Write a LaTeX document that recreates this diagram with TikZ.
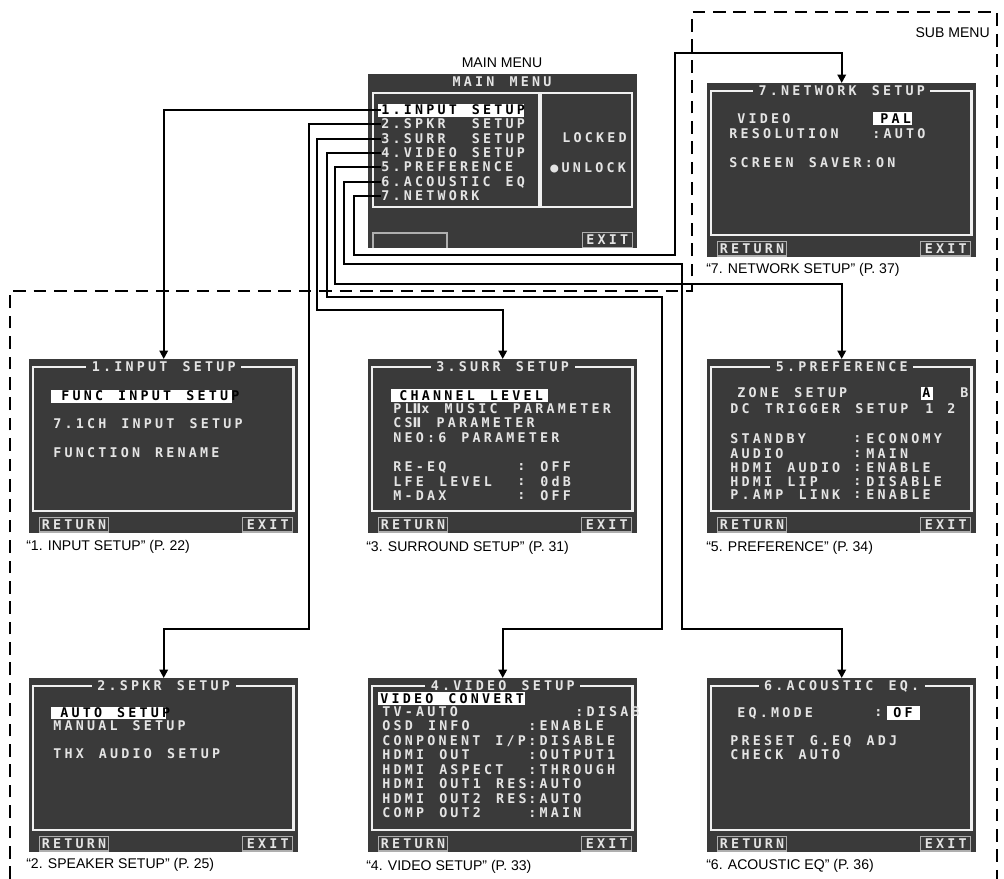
\documentclass[tikz,border=0pt]{standalone}
\usepackage{fontspec}
\setmainfont{Liberation Sans}
\newfontfamily\lcdfont[LetterSpace=24,WordSpace=1.35]{DejaVu Sans Mono}
\newfontfamily\romfont[LetterSpace=24]{DejaVu Sans}
\usetikzlibrary{arrows.meta, positioning, calc}
\definecolor{cScreen}{RGB}{58,58,58}
\definecolor{cFrame}{RGB}{240,240,240}
\definecolor{cLcd}{RGB}{228,228,228}
\definecolor{cBtn}{RGB}{175,175,175}
\tikzset{
  scrbox/.style={rectangle, fill=cScreen, minimum width=6.72cm,
                 minimum height=4.33cm, inner sep=0pt, anchor=north west},
  scrframe/.style={draw=cFrame, line width=1.6pt},
  lcd/.style={font=\lcdfont\bfseries\fontsize{9.5}{10}\selectfont,
              text=cLcd, inner sep=0pt, anchor=west},
  lcdhi/.style={lcd, text=black},
  scrtitle/.style={lcd, anchor=center, fill=cScreen, inner xsep=4pt, inner ysep=1pt},
  btn/.style={lcd, anchor=south west, draw=cBtn, line width=1pt,
              minimum height=0.37cm, inner xsep=1pt},
  captext/.style={font=\fontsize{10}{12}\selectfont, inner sep=0pt, anchor=west},
  link/.style={-{Triangle[width=6pt,length=6pt]}, line width=1.4pt, black},
  submenu/.style={line width=1.4pt, dash pattern=on 9pt off 5.5pt}
}
% one sub screen: name, x, y (top left), title
\newcommand{\subscreen}[4]{%
  \node[scrbox] (#1) at (#2,#3) {};
  \draw[scrframe] ([shift={(4,8)}]#1.north west) rectangle ([shift={(-5,-22)}]#1.south east);
  \node[scrtitle] at ([shift={(0,8)}]#1.north) {#4};
  \node[btn, minimum width=1.72cm] at ([shift={(10,0)}]#1.south west) {RETURN};
  \node[btn, anchor=south east, minimum width=1.25cm] at ([shift={(-5,0)}]#1.south east) {EXIT};
}
\newcommand{\sk}{\hspace{7.9pt}}
\newcommand{\two}{{\romfont Ⅱ}}

\begin{document}
\begin{tikzpicture}[x=0.025cm, y=-0.025cm]
  \useasboundingbox (0,0) rectangle (1004,879);

  % boundary of the sub menus
  \draw[submenu] (10,879) -- (10,291) -- (692,291) -- (692,12) -- (997,12) -- (997,879);
  \node[captext, anchor=east] at (990,33) {SUB MENU};

  % main menu
  \node[captext, anchor=center] at (502,63) {MAIN MENU};
  \node[scrbox] (mainm) at (368,74) {};
  \node[lcd, anchor=center] at (502,82) {MAIN MENU};
  \draw[scrframe] (373,93) rectangle (539,207);
  \draw[scrframe] (541,93) rectangle (632,207);
  \fill[white] (378,104) rectangle (524,117);
  \node[lcdhi] (it1) at (381,110) {1.INPUT SETUP};
  \node[lcd] (it2) at (381,124) {2.SPKR\sk{} SETUP};
  \node[lcd] (it3) at (381,139) {3.SURR\sk{} SETUP};
  \node[lcd] (it4) at (381,153) {4.VIDEO SETUP};
  \node[lcd] (it5) at (381,167) {5.PREFERENCE};
  \node[lcd] (it6) at (381,182) {6.ACOUSTIC EQ};
  \node[lcd] (it7) at (381,196) {7.NETWORK};
  \node[lcd] at (562,138) {LOCKED};
  \node[lcd] at (550,168) {●UNLOCK};
  \draw[cBtn, line width=1pt] (373,248) -- (373,233) -- (447,233) -- (447,248);
  \node[btn, anchor=south east, minimum width=1.25cm] at (633,248) {EXIT};

  % 7. network
  \subscreen{netw}{707}{83}{7.NETWORK SETUP}
  \node[lcd] at (737,119) {VIDEO};
  \fill[white] (873,112) rectangle (912,125);
  \node[lcdhi] at (880,119) {PAL};
  \node[lcd] at (729,134) {RESOLUTION};
  \node[lcd] at (872,134) {:AUTO};
  \node[lcd] at (729,163) {SCREEN SAVER:ON};
  \node[captext] at (706,270) {“7. NETWORK SETUP” (P. 37)};

  % 1. input
  \subscreen{input}{29}{359}{1.INPUT SETUP}
  \fill[white] (51,390) rectangle (232,403);
  \node[lcdhi] at (61,396) {FUNC INPUT SETUP};
  \node[lcd] at (53,424) {7.1CH INPUT SETUP};
  \node[lcd] at (53,453) {FUNCTION RENAME};
  \node[captext] at (26,547) {“1. INPUT SETUP” (P. 22)};

  % 3. surround
  \subscreen{surr}{368}{359}{3.SURR SETUP}
  \fill[white] (391,389) rectangle (548,402);
  \node[lcdhi] at (399,396) {CHANNEL LEVEL};
  \node[lcd] at (393,409) {PL\two x MUSIC PARAMETER};
  \node[lcd] at (393,423) {CS\two{} PARAMETER};
  \node[lcd] at (393,438) {NEO:6 PARAMETER};
  \node[lcd] at (393,467) {RE-EQ};
  \node[lcd] at (393,482) {LFE LEVEL};
  \node[lcd] at (393,496) {M-DAX};
  \foreach \yy/\val in {467/OFF, 482/0dB, 496/OFF} {
    \node[lcd] at (517,\yy) {:};
    \node[lcd] at (540,\yy) {\val};
  }
  \node[captext] at (366,548) {“3. SURROUND SETUP” (P. 31)};

  % 5. preference
  \subscreen{pref}{707}{359}{5.PREFERENCE}
  \node[lcd] at (737,393) {ZONE SETUP};
  \fill[white] (921,387) rectangle (933,400);
  \node[lcdhi] at (922,393) {A};
  \node[lcd] at (960,393) {B};
  \node[lcd] at (730,409) {DC TRIGGER SETUP};
  \node[lcd] at (925,409) {1};
  \node[lcd] at (947,409) {2};
  \foreach \yy/\key/\val in {439/STANDBY/ECONOMY, 454/AUDIO/MAIN, 468/HDMI AUDIO/ENABLE,
                             482/HDMI LIP/DISABLE, 495/P.AMP LINK/ENABLE} {
    \node[lcd] at (730,\yy) {\key};
    \node[lcd] at (853,\yy) {:};
    \node[lcd] at (866,\yy) {\val};
  }
  \node[captext] at (706,548) {“5. PREFERENCE” (P. 34)};

  % 2. speaker
  \subscreen{spkr}{29}{678}{2.SPKR SETUP}
  \fill[white] (51,707) rectangle (166,719);
  \node[lcdhi] at (60,713) {AUTO SETUP};
  \node[lcd] at (53,726) {MANUAL SETUP};
  \node[lcd] at (53,754) {THX AUDIO SETUP};
  \node[captext] at (26,865) {“2. SPEAKER SETUP” (P. 25)};

  % 4. video
  \subscreen{video}{368}{678}{4.VIDEO SETUP}
  \fill[white] (378,692) rectangle (525,705);
  \node[lcdhi] at (380,699) {VIDEO CONVERT};
  \node[lcd] at (382,712) {TV-AUTO};
  \node[lcd] at (575,712) {:DISAB};
  \foreach \yy/\key/\val in {726/OSD INFO/ENABLE, 741/{CONPONENT I/P}/DISABLE,
                             755/HDMI OUT/OUTPUT1, 770/HDMI ASPECT/THROUGH,
                             784/HDMI OUT1 RES/AUTO, 799/HDMI OUT2 RES/AUTO,
                             813/COMP OUT2/MAIN} {
    \node[lcd] at (382,\yy) {\key};
    \node[lcd] at (528,\yy) {:\val};
  }
  \node[captext] at (366,867) {“4. VIDEO SETUP” (P. 33)};

  % 6. acoustic eq
  \subscreen{aceq}{707}{678}{6.ACOUSTIC EQ.}
  \node[lcd] at (737,713) {EQ.MODE};
  \node[lcd] at (874,713) {:};
  \fill[white] (887,706) rectangle (920,720);
  \node[lcdhi] at (893,713) {OF};
  \node[lcd] at (730,741) {PRESET G.EQ ADJ};
  \node[lcd] at (730,755) {CHECK AUTO};
  \node[captext] at (706,866) {“6. ACOUSTIC EQ” (P. 36)};

  % menu items to their sub screens
  \draw[link] (it1.west) -| (input.north);
  \draw[link] (it2.west) -| (309,629) -| (spkr.north);
  \draw[link] (it3.west) -| (317,310) -| (surr.north);
  \draw[link] (it4.west) -| (327,297) -| (662,629) -| (video.north);
  \draw[link] (it5.west) -| (335,284) -| (pref.north);
  \draw[link] (it6.west) -| (344,264) -| (682,629) -| (aceq.north);
  \draw[link] (it7.west) -| (354,255) -| (675,53) -| (netw.north);
\end{tikzpicture}
\end{document}
